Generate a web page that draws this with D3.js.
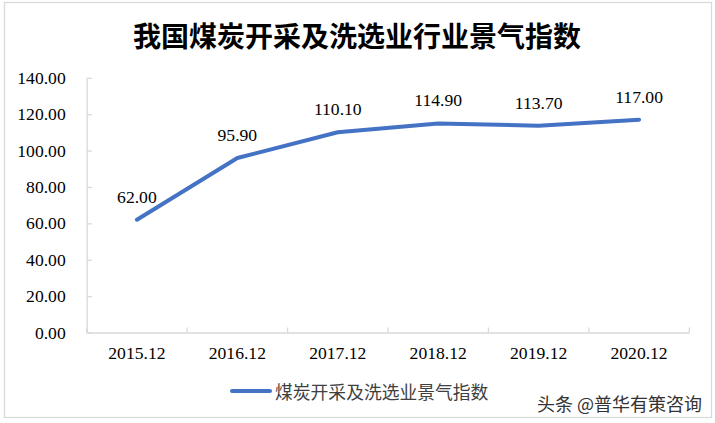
<!DOCTYPE html>
<html>
<head>
<meta charset="utf-8">
<script src="https://cdn.jsdelivr.net/npm/d3@7"></script>
<style>
  html, body { margin: 0; padding: 0; background: #fff; }
  svg { display: block; }
</style>
</head>
<body>
<svg id="chart" width="715" height="423"></svg>
<script>
const titleText = "我国煤炭开采及洗选业行业景气指数";
const seriesName = "煤炭开采及洗选业景气指数";
const categories = ["2015.12", "2016.12", "2017.12", "2018.12", "2019.12", "2020.12"];
const values = [62.00, 95.90, 110.10, 114.90, 113.70, 117.00];
const yTicks = [0, 20, 40, 60, 80, 100, 120, 140];
const watermark = "头条 @普华有策咨询";

const svg = d3.select("#chart");
const serif = "'Liberation Serif', 'Times New Roman', serif";
const cjk = "'Noto Sans CJK SC', sans-serif";
const axisColor = "#d9d9d9";
const lineColor = "#4472C4";

// outer border
svg.append("rect")
  .attr("x", 4.5).attr("y", 2.5).attr("width", 707).attr("height", 415)
  .attr("fill", "#fff").attr("stroke", "#d9d9d9").attr("stroke-width", 1.3);

// title
svg.append("text")
  .attr("x", 357).attr("y", 34.5)
  .attr("text-anchor", "middle").attr("dominant-baseline", "central")
  .attr("font-family", cjk).attr("font-weight", "bold").attr("font-size", 28)
  .attr("fill", "#000").text(titleText);

const plotLeft = 86.7, plotRight = 689.3, plotTop = 77.8, plotBottom = 332.5;
const x = d3.scaleBand().domain(categories).range([plotLeft, plotRight]);
const y = d3.scaleLinear().domain([0, 140]).range([plotBottom, plotTop]);

// y axis
const yAxis = svg.append("g").attr("transform", `translate(${plotLeft},0)`)
  .call(d3.axisLeft(y).tickValues(yTicks).tickSizeInner(-5).tickSizeOuter(0).tickPadding(21)
    .tickFormat(d => d3.format(".2f")(d)));
yAxis.select(".domain").attr("stroke", axisColor).attr("stroke-width", 1.3);
yAxis.selectAll(".tick line").attr("stroke", axisColor).attr("stroke-width", 1.3);
yAxis.selectAll(".tick text").attr("font-family", serif).attr("font-size", 17.6).attr("fill", "#000");

// x axis
const xAxis = svg.append("g").attr("transform", `translate(0,${plotBottom})`)
  .call(d3.axisBottom(x).tickSize(0).tickPadding(14));
xAxis.select(".domain").attr("stroke", axisColor).attr("stroke-width", 1.3);
xAxis.selectAll(".tick text").attr("font-family", serif).attr("font-size", 17.6).attr("fill", "#000");
// category boundary ticks
const bounds = categories.map(c => x(c)).concat([x(categories[categories.length - 1]) + x.bandwidth()]);
xAxis.selectAll(".bound").data(bounds).enter().append("line")
  .attr("x1", d => d).attr("x2", d => d).attr("y1", 0).attr("y2", -5)
  .attr("stroke", axisColor).attr("stroke-width", 1.3);

// line
const cx = c => x(c) + x.bandwidth() / 2;
const line = d3.line().x((d, i) => cx(categories[i])).y(d => y(d));
svg.append("path").datum(values)
  .attr("d", line).attr("fill", "none").attr("stroke", lineColor)
  .attr("stroke-width", 4).attr("stroke-linejoin", "round").attr("stroke-linecap", "round");

// data labels
svg.append("g").selectAll("text").data(values).enter().append("text")
  .attr("x", (d, i) => cx(categories[i]))
  .attr("y", d => y(d) - 17)
  .attr("text-anchor", "middle")
  .attr("font-family", serif).attr("font-size", 17.6).attr("fill", "#000")
  .text(d => d3.format(".2f")(d));

// legend
svg.append("line")
  .attr("x1", 232).attr("x2", 270).attr("y1", 391).attr("y2", 391)
  .attr("stroke", lineColor).attr("stroke-width", 4).attr("stroke-linecap", "round");
svg.append("text")
  .attr("x", 275).attr("y", 391).attr("dominant-baseline", "central")
  .attr("font-family", cjk).attr("font-size", 17.8).attr("fill", "#404040")
  .text(seriesName);

// watermark
svg.append("text")
  .attr("x", 702).attr("y", 403).attr("text-anchor", "end").attr("dominant-baseline", "central")
  .attr("font-family", cjk).attr("font-size", 18).attr("fill", "#333")
  .attr("stroke", "#fff").attr("stroke-width", 0.5).attr("paint-order", "stroke")
  .text(watermark);
</script>
</body>
</html>
